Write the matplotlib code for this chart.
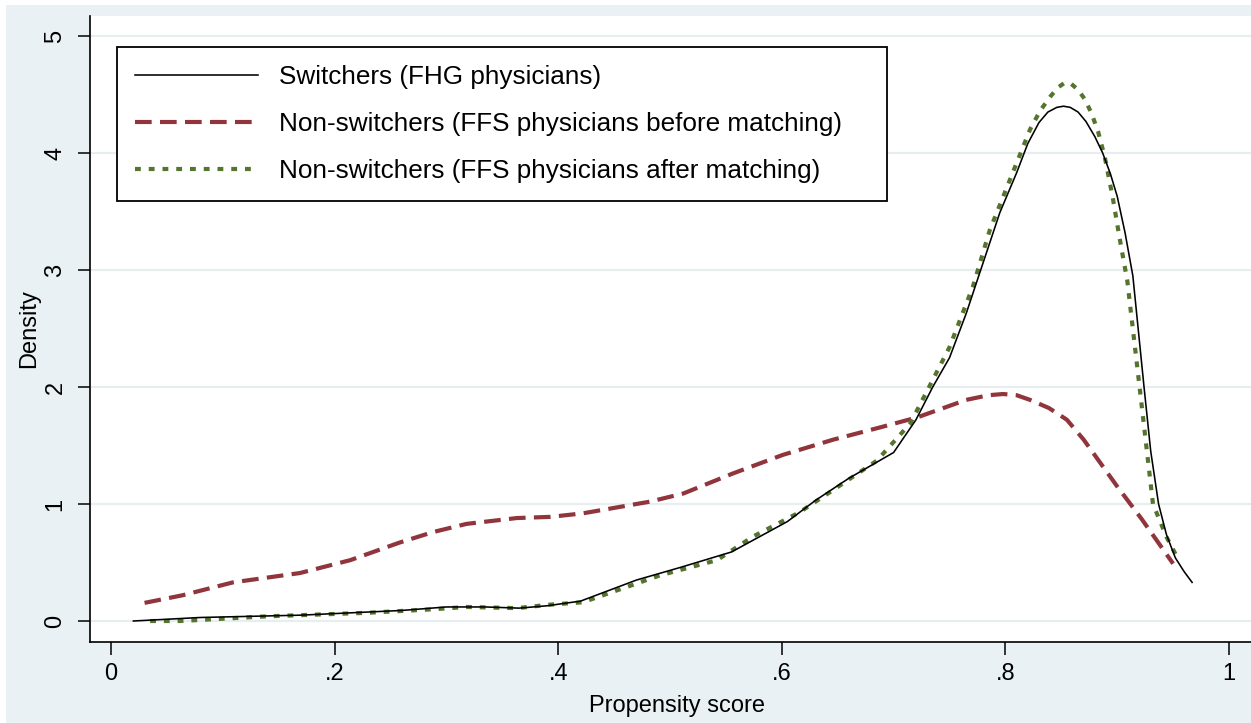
import matplotlib
matplotlib.use("Agg")
import matplotlib.pyplot as plt
from matplotlib.patches import Rectangle

# ---- data ----
sw_x = [0.02, 0.08, 0.17, 0.26, 0.30, 0.335, 0.365, 0.39, 0.42, 0.47, 0.51, 0.555,
        0.605, 0.63, 0.66, 0.70, 0.72, 0.735, 0.75, 0.765, 0.78, 0.795, 0.81, 0.82,
        0.83, 0.838, 0.846, 0.852, 0.858, 0.865, 0.872, 0.88, 0.887, 0.894, 0.90,
        0.907, 0.914, 0.924, 0.93, 0.937, 0.944, 0.952, 0.96, 0.967]
sw_y = [0.0, 0.03, 0.05, 0.09, 0.12, 0.12, 0.11, 0.13, 0.17, 0.35, 0.46, 0.59,
        0.85, 1.03, 1.22, 1.44, 1.72, 2.0, 2.25, 2.63, 3.06, 3.49, 3.83, 4.08,
        4.26, 4.35, 4.39, 4.40, 4.39, 4.35, 4.27, 4.14, 4.0, 3.82, 3.63,
        3.32, 2.95, 2.0, 1.45, 1.0, 0.74, 0.54, 0.42, 0.33]

before_x = [0.03, 0.064, 0.109, 0.169, 0.214, 0.258, 0.288, 0.318, 0.363, 0.393,
            0.422, 0.482, 0.512, 0.556, 0.601, 0.646, 0.69, 0.721, 0.765, 0.785,
            0.798, 0.81, 0.822, 0.839, 0.855, 0.87, 0.90, 0.922, 0.95]
before_y = [0.155, 0.22, 0.33, 0.41, 0.52, 0.67, 0.76, 0.83, 0.88, 0.89,
            0.92, 1.02, 1.09, 1.26, 1.42, 1.55, 1.66, 1.74, 1.89, 1.93,
            1.94, 1.93, 1.89, 1.82, 1.72, 1.55, 1.15, 0.87, 0.49]

after_x = [0.035, 0.062, 0.14, 0.229, 0.288, 0.318, 0.363, 0.393, 0.422, 0.491,
           0.542, 0.574, 0.616, 0.646, 0.685, 0.715, 0.735, 0.750, 0.771, 0.786,
           0.804, 0.822, 0.831, 0.84, 0.847, 0.853, 0.859, 0.865, 0.871, 0.877,
           0.883, 0.889, 0.896, 0.902, 0.909, 0.92, 0.932, 0.944, 0.955]
after_y = [0.0, 0.0, 0.04, 0.07, 0.10, 0.12, 0.11, 0.14, 0.16, 0.39,
           0.52, 0.72, 0.93, 1.12, 1.37, 1.69, 2.06, 2.34, 2.86, 3.34,
           3.77, 4.2, 4.36, 4.48, 4.56, 4.60, 4.59, 4.54, 4.46, 4.34,
           4.18, 3.96, 3.62, 3.28, 2.91, 2.0, 1.0, 0.72, 0.52]

labels = ["Switchers (FHG physicians)",
          "Non-switchers (FFS physicians before matching)",
          "Non-switchers (FFS physicians after matching)"]
xticks = [0, 0.2, 0.4, 0.6, 0.8, 1.0]
xticklabels = ["0", ".2", ".4", ".6", ".8", "1"]
yticks = [0, 1, 2, 3, 4, 5]
yticklabels = ["0", "1", "2", "3", "4", "5"]

# ---- style ----
plt.rcParams["font.family"] = ["Liberation Sans", "DejaVu Sans"]
W, H = 1251, 723
fig = plt.figure(figsize=(W / 100, H / 100), dpi=100, facecolor="white")
bg = "#EAF1F4"
fig.patches.append(Rectangle((6 / W, 0), 1 - 6 / W, 1 - 5 / H, transform=fig.transFigure,
                             facecolor=bg, edgecolor="none", zorder=-10))

axw = (W - 90) / W + 0.01
ax = fig.add_axes([90 / W, 1 - 642 / H, axw, (642 - 16) / H])
ax.set_facecolor("white")

x_per = 1118.0
y_per = 117.0
ax.set_xlim((90 - 111) / x_per, (90 + axw * W - 111) / x_per)
ax.set_ylim(-(642 - 621) / y_per, (621 - 16) / y_per)

for yv in yticks:
    ax.axhline(yv, color="#E8EDF0", lw=1.6, zorder=0)

ax.plot(sw_x, sw_y, color="black", lw=1.15, label=labels[0], zorder=3)
ax.plot(before_x, before_y, color="#90353B", lw=3.0, dashes=(4.0, 2.0),
        label=labels[1], zorder=2)
ax.plot(after_x, after_y, color="#55752F", lw=3.0, dashes=(1.4, 1.9),
        label=labels[2], zorder=2)

for s in ["top", "right"]:
    ax.spines[s].set_visible(False)
for s in ["left", "bottom"]:
    ax.spines[s].set_linewidth(1.2)
    ax.spines[s].set_color("black")

ax.set_xticks(xticks)
ax.set_xticklabels(xticklabels)
ax.set_yticks(yticks)
ax.set_yticklabels(yticklabels)
ax.tick_params(axis="both", direction="out", length=9, width=1.1, labelsize=17,
               color="black")
ax.tick_params(axis="x", pad=6)
ax.tick_params(axis="y", pad=8, labelrotation=90)
for lbl in ax.get_yticklabels():
    lbl.set_va("center")

ax.set_xlabel("Propensity score", fontsize=17, labelpad=7)
ax.set_ylabel("Density", fontsize=17, labelpad=3)

leg = ax.legend(loc="upper left", mode="expand",
                bbox_to_anchor=((117 - 90) / (axw * W), (642 - 200) / 626,
                                (887 - 117) / (axw * W), (200 - 47) / 626),
                bbox_transform=ax.transAxes, fontsize=18.8, frameon=True,
                fancybox=False, framealpha=1, edgecolor="black",
                handlelength=4.7, handletextpad=0.8, borderpad=0.7,
                labelspacing=0.87, borderaxespad=0)
leg.get_frame().set_linewidth(1.3)

fig.savefig("out.png", dpi=100, facecolor=fig.get_facecolor())
